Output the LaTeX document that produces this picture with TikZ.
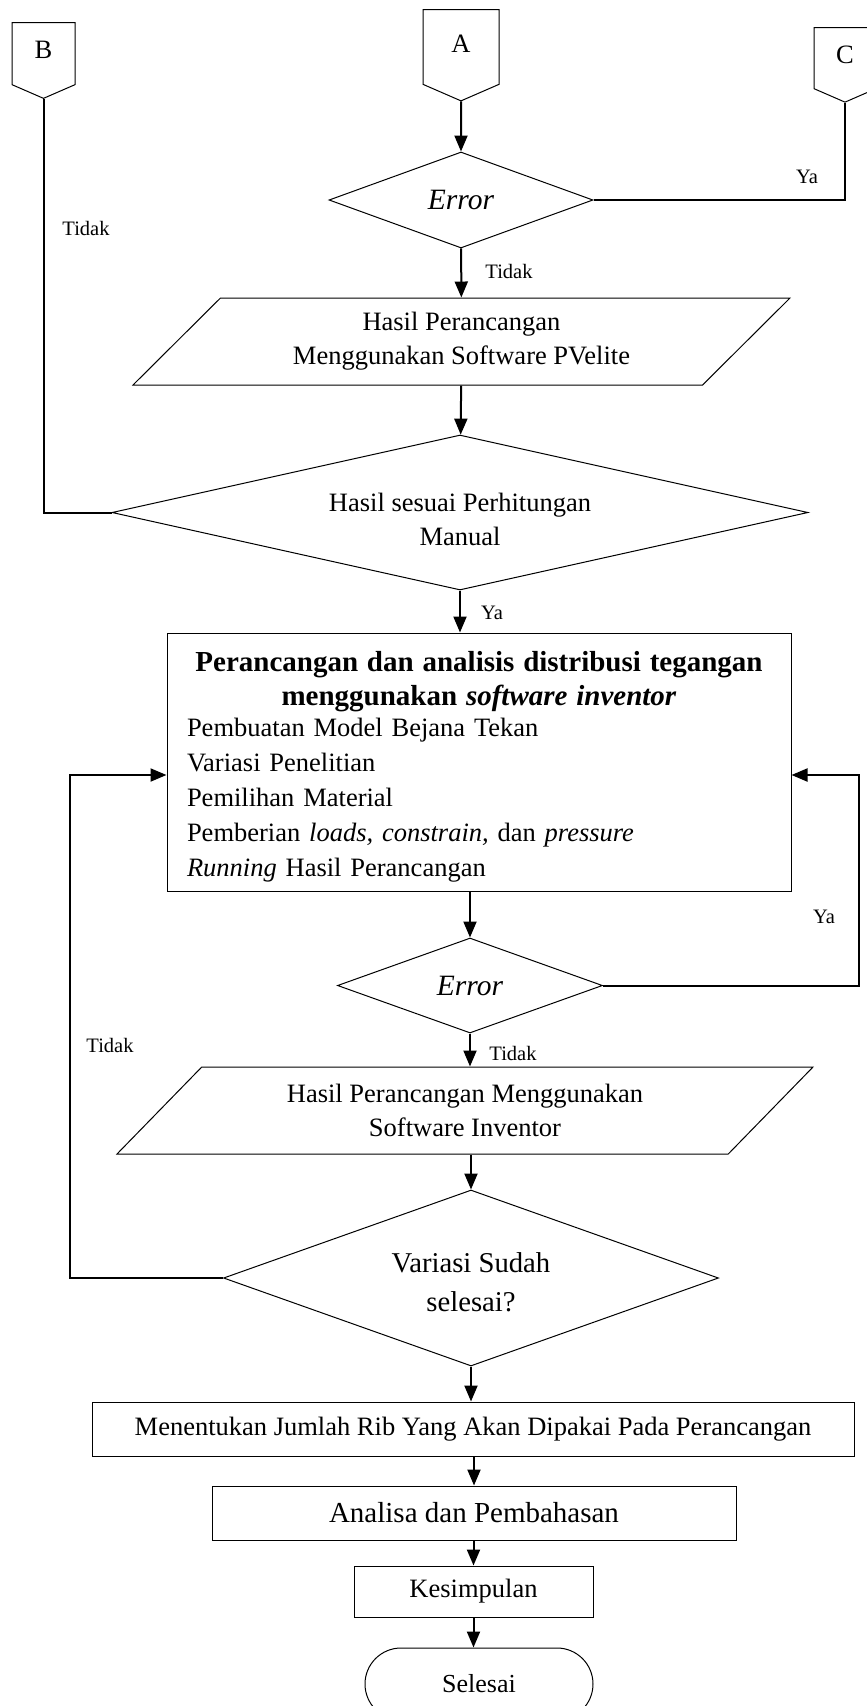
\documentclass[tikz,border=0pt]{standalone}
\usepackage{fontspec}
\setmainfont{Liberation Serif}
\usepackage{tikz}
\usetikzlibrary{shapes}
\usetikzlibrary{shapes.geometric,shapes.symbols,shapes.misc}
\usetikzlibrary{arrows.meta,calc,positioning}
\tikzstyle{conn}=[draw, line width=1pt, shape=signal, signal to=south, signal pointer angle=133, inner sep=0pt, font=\fontsize{26.5}{30}\selectfont]
\tikzstyle{dec}=[draw, line width=1pt, diamond, inner sep=0pt, align=center, font=\fontsize{26.5}{34}\selectfont]
\tikzstyle{io}=[draw, line width=1pt, trapezium, trapezium stretches body, inner sep=0pt, align=center, font=\fontsize{26.5}{34}\selectfont]
\tikzstyle{proc}=[draw, line width=1pt, rectangle, inner sep=0pt, align=center, font=\fontsize{26.5}{34}\selectfont]
\tikzstyle{term}=[draw, line width=1pt, rounded rectangle, inner sep=0pt, font=\fontsize{26}{30}\selectfont]
\tikzstyle{arr}=[line width=2pt, -{Triangle[length=16pt,width=13pt]}]
\tikzstyle{line}=[line width=2pt]
\tikzstyle{lbl}=[inner sep=0pt, font=\fontsize{20.5}{24}\selectfont]

\begin{document}
\begin{tikzpicture}[x=1pt,y=-1pt]
\useasboundingbox (0,0) rectangle (867,1706);
% sambungan
\node[conn, anchor=north, minimum width=76, minimum height=79] (A) at (461,9) {\raisebox{7pt}{A}};
\node[conn, anchor=north, minimum width=63, minimum height=66] (B) at (43.5,22) {\raisebox{7pt}{B}};
\node[conn, anchor=north, minimum width=62, minimum height=65] (C) at (845,27) {\raisebox{7pt}{C}};
% alur atas
\node[dec, aspect=2.75, minimum width=264, minimum height=96, font=\fontsize{29.5}{34}\selectfont\itshape] (err1) at (461,200) {Error};
\node[io, trapezium left angle=33.6, trapezium right angle=146.4, minimum width=657, minimum height=87] (hasil1) at (461.5,341.5) {Hasil Perancangan\\Menggunakan Software PVelite};
\node[dec, aspect=4.5, minimum width=696, minimum height=155] (cek) at (460,512.5) {\rule{0pt}{32pt}Hasil sesuai Perhitungan\\Manual};
\node[proc, minimum width=624, minimum height=258, text width=584, align=left, font=\fontsize{26.5}{35}\selectfont] (inv) at (479,762) {%
{\centering\fontsize{29}{34}\selectfont\bfseries \rule{0pt}{30pt}Perancangan dan analisis distribusi tegangan\\ menggunakan \textit{software inventor}\par}
\vspace{-4.3pt}
Pembuatan Model Bejana Tekan\\
Variasi Penelitian\\
Pemilihan Material\\
Pemberian \textit{loads, constrain,} dan \textit{pressure}\\
\textit{Running} Hasil Perancangan};
% alur bawah
\node[dec, aspect=2.75, minimum width=265, minimum height=95, font=\fontsize{29.5}{34}\selectfont\itshape] (err2) at (470,985.5) {Error};
\node[io, trapezium left angle=31.85, trapezium right angle=148.15, minimum width=696, minimum height=87] (hasil2) at (465,1110.5) {Hasil Perancangan Menggunakan\\Software Inventor};
\node[dec, aspect=2.8, minimum width=495, minimum height=176, font=\fontsize{28.7}{39}\selectfont] (var) at (471,1278) {\rule{0pt}{28pt}Variasi Sudah\\selesai?};
\node[proc, minimum width=762, minimum height=54] (rib) at (473,1429) {Menentukan Jumlah Rib Yang Akan Dipakai Pada Perancangan};
\node[proc, minimum width=524, minimum height=54, font=\fontsize{29}{34}\selectfont] (ana) at (474,1513) {Analisa dan Pembahasan};
\node[proc, minimum width=239, minimum height=51] (kes) at (473.5,1591.5) {Kesimpulan};
\node[term, minimum width=228, minimum height=72] (end) at (479,1684) {Selesai};
\coordinate (loopL) at (70,775);
\coordinate (loopR) at (859,775);

\draw[arr] (A) -- (err1);
\draw[arr] (err1) -- (hasil1);
\draw[arr] (hasil1) -- (cek);
\draw[arr] (cek.south) -- (cek.south |- inv.north);
\draw[line] (B.south) |- (cek.west);
\draw[line] (err1.east) -| (C.south);
\draw[arr] (err2 |- inv.south) -- (err2.north);
\draw[arr] (err2.south) -- (err2.south |- hasil2.north);
\draw[arr] (var |- hasil2.south) -- (var.north);
\draw[arr] (var.south) -- (var.south |- rib.north);
\draw[arr] (ana |- rib.south) -- (ana.north);
\draw[arr] (kes |- ana.south) -- (kes.north);
\draw[arr] (kes.south) -- (kes.south |- end.north);
\draw[arr] (var.west) -| (loopL) -- (inv.west |- loopL);
\draw[arr] (err2.east) -| (loopR) -- (inv.east |- loopR);
% label
\node[lbl] (tidakB) at (86,228) {Tidak};
\node[lbl] (tidak1) at (509,271) {Tidak};
\node[lbl] (ya1) at (807,177) {Ya};
\node[lbl] (ya2) at (492,613) {Ya};
\node[lbl] (ya3) at (824,917) {Ya};
\node[lbl] (tidakL) at (110,1045) {Tidak};
\node[lbl] (tidak2) at (513,1053) {Tidak};
\end{tikzpicture}
\end{document}
